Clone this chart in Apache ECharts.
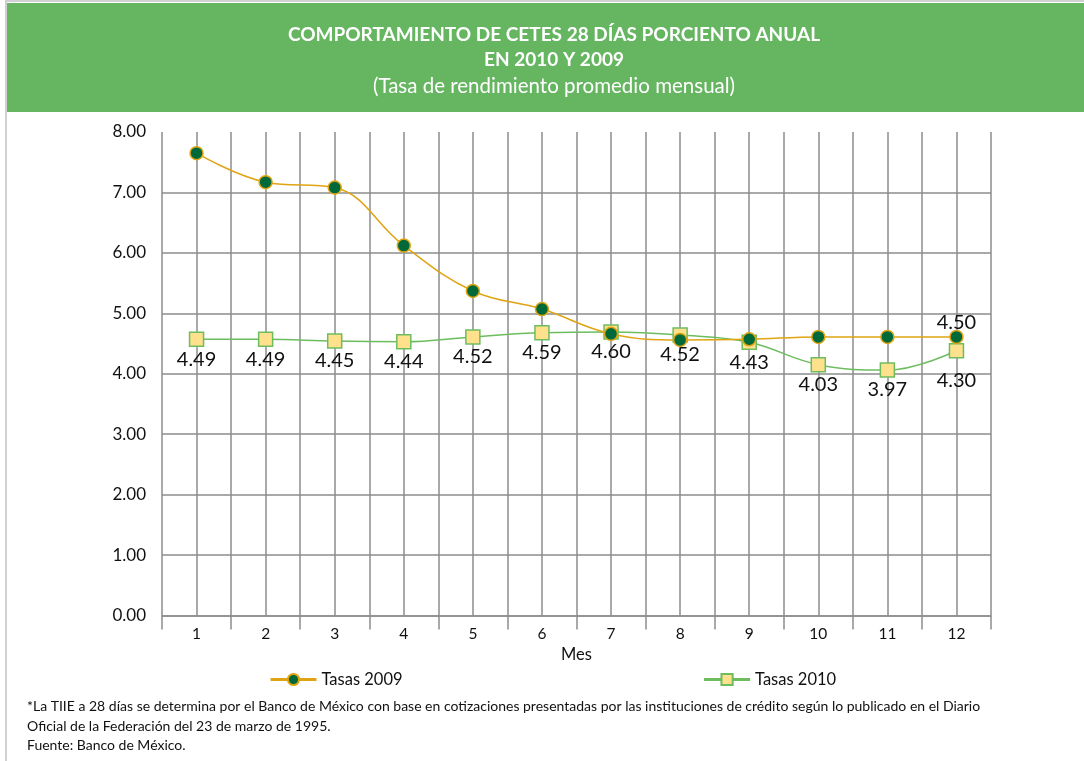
<!DOCTYPE html>
<html>
<head>
<meta charset="utf-8">
<script src="https://cdn.jsdelivr.net/npm/echarts@6/dist/echarts.min.js"></script>
<style>
  html, body { margin: 0; padding: 0; background: #fff; }
  #chart { width: 1084px; height: 761px; }
</style>
</head>
<body>
<div id="chart"></div>
<script>
const months = ["1", "2", "3", "4", "5", "6", "7", "8", "9", "10", "11", "12"];
const tasas2009 = [7.65, 7.17, 7.08, 6.12, 5.37, 5.07, 4.66, 4.56, 4.57, 4.61, 4.61, 4.61];
const tasas2010 = [4.57, 4.57, 4.54, 4.53, 4.61, 4.68, 4.69, 4.64, 4.52, 4.15, 4.06, 4.38];
const labels2009 = ["", "", "", "", "", "", "", "", "", "", "", "4.50"];
const labels2010 = ["4.49", "4.49", "4.45", "4.44", "4.52", "4.59", "4.60", "4.52", "4.43", "4.03", "3.97", "4.30"];

const FONT = "Lato";
const gridColor = "#8d8d8d";

const chart = echarts.init(document.getElementById("chart"));

// no horizontal line at the top (8.00): last split line is transparent
const hLineColors = [gridColor, gridColor, gridColor, gridColor, gridColor, gridColor, gridColor, gridColor, "rgba(0,0,0,0)"];

const option = {
  animation: false,
  textStyle: { fontFamily: FONT },
  graphic: [
    {
      type: "rect",
      shape: { x: 6, y: 1, width: 1100, height: 800 },
      style: { fill: "#fff", stroke: "#d0d0d0", lineWidth: 2 },
      z: -10
    },
    {
      type: "rect",
      shape: { x: 7, y: 3, width: 1077, height: 109 },
      style: { fill: "#66b561" },
      z: -5
    },
    {
      type: "text",
      left: 27,
      top: 697,
      style: {
        text: "*La TIIE a 28 días se determina por el Banco de México con base en cotizaciones presentadas por las instituciones de crédito según lo publicado en el Diario\nOficial de la Federación del 23 de marzo de 1995.\nFuente: Banco de México.",
        font: "14px " + FONT,
        lineHeight: 19.5,
        fill: "#111"
      }
    }
  ],
  title: {
    text: "COMPORTAMIENTO DE CETES 28 DÍAS PORCIENTO ANUAL\nEN 2010 Y 2009",
    subtext: "(Tasa de rendimiento promedio mensual)",
    left: 549,
    textAlign: "center",
    top: 17,
    itemGap: 4,
    textStyle: { color: "#fff", fontSize: 19, fontWeight: "bold", lineHeight: 25, fontFamily: FONT },
    subtextStyle: { color: "#fff", fontSize: 20.5, fontFamily: FONT }
  },
  legend: {
    left: 264,
    top: 666,
    itemWidth: 46,
    itemHeight: 14,
    itemGap: 300,
    lineStyle: { width: 3 },
    textStyle: { fontSize: 16.5, color: "#111", fontFamily: FONT },
    data: ["Tasas 2009", "Tasas 2010"]
  },
  grid: { left: 162, right: 93, top: 132, bottom: 145.5 },
  xAxis: {
    type: "category",
    data: months,
    boundaryGap: true,
    name: "Mes",
    nameLocation: "middle",
    nameGap: 27,
    nameTextStyle: { fontSize: 16.5, color: "#111", fontFamily: FONT },
    axisLine: { lineStyle: { color: gridColor, width: 1.5 } },
    axisTick: { show: true, length: 14, lineStyle: { color: gridColor, width: 1.5 } },
    axisLabel: { fontSize: 15.5, color: "#111", margin: 10, fontFamily: FONT },
    splitLine: { show: true, lineStyle: { color: gridColor, width: 1.5 } }
  },
  yAxis: {
    type: "value",
    min: 0,
    max: 8,
    interval: 1,
    axisLine: { show: false },
    axisTick: { show: false },
    axisLabel: {
      fontSize: 17,
      color: "#111",
      margin: 16,
      fontFamily: FONT,
      formatter: function (v) { return v.toFixed(2); }
    },
    splitLine: { show: true, showMaxLine: false, lineStyle: { color: hLineColors, width: 1.5 } }
  },
  series: [
    {
      name: "Tasas 2009",
      type: "line",
      data: tasas2009,
      smooth: 0.4,
      symbol: "circle",
      symbolSize: 13,
      z: 3,
      itemStyle: { color: "#00693a", borderColor: "#e0a412", borderWidth: 1.5 },
      lineStyle: { color: "#e0a412", width: 1.5 },
      label: {
        show: true,
        position: "top",
        distance: -3,
        fontSize: 20,
        color: "#111",
        fontFamily: FONT,
        formatter: function (p) { return labels2009[p.dataIndex]; }
      },
      // vertical grid lines through each month
      markLine: {
        silent: true,
        symbol: "none",
        z: 0,
        label: { show: false },
        emphasis: { disabled: true },
        lineStyle: { color: gridColor, width: 1.5, type: "solid" },
        data: months.map(function (m) { return { xAxis: m }; })
      }
    },
    {
      name: "Tasas 2010",
      type: "line",
      data: tasas2010.map(function (v, i) {
        // last label sits lower in the original
        return i === tasas2010.length - 1 ? { value: v, label: { offset: [0, 10] } } : v;
      }),
      smooth: 0.4,
      symbol: "rect",
      symbolSize: 14,
      z: 2,
      itemStyle: { color: "#ffe08c", borderColor: "#6dbd5f", borderWidth: 1.5 },
      lineStyle: { color: "#6dbd5f", width: 1.5 },
      label: {
        show: true,
        position: "bottom",
        distance: 2,
        fontSize: 20,
        color: "#111",
        fontFamily: FONT,
        formatter: function (p) { return labels2010[p.dataIndex]; }
      }
    }
  ]
};

chart.setOption(option);
</script>
</body>
</html>
